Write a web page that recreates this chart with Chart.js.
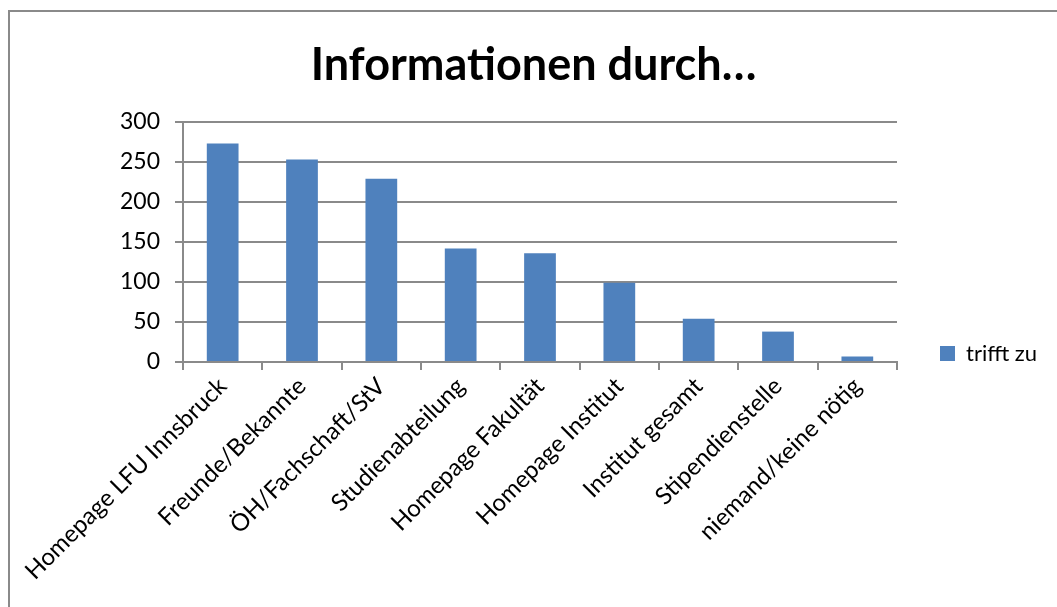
<!DOCTYPE html>
<html>
<head>
<meta charset="utf-8">
<script src="https://cdn.jsdelivr.net/npm/chart.js@4"></script>
<style>
  html, body { margin: 0; padding: 0; background: #fff; overflow: hidden; }
  #frame {
    position: absolute; left: 8px; top: 10px;
    width: 1049px; height: 597px;
    border-left: 2px solid #8a8a8a; border-top: 2px solid #8a8a8a;
  }
</style>
</head>
<body>
<div id="frame"><canvas id="chart" width="1047" height="595"></canvas></div>
<script>
// Kategorien und Werte
const categories = [
  'Homepage LFU Innsbruck',
  'Freunde/Bekannte',
  'ÖH/Fachschaft/StV',
  'Studienabteilung',
  'Homepage Fakultät',
  'Homepage Institut',
  'Institut gesamt',
  'Stipendienstelle',
  'niemand/keine nötig'
];
const trifftZu = [273, 253, 229, 142, 136, 99, 54, 38, 7];
const yTicks = [0, 50, 100, 150, 200, 250, 300];

const fontFamily = 'Lato, "Liberation Sans", sans-serif';
const gridColor = '#8a8a8a';

// Legende: feste Breite rechts vom Diagramm, etwas tiefer gesetzt
const legendPlacement = {
  id: 'legendPlacement',
  afterInit(chart) {
    const fit = chart.legend.fit;
    chart.legend.fit = function () {
      fit.call(this);
      this.width = 160;
    };
  },
  afterLayout(chart) {
    chart.legend.top += 36;
    chart.legend.bottom += 36;
  }
};

new Chart(document.getElementById('chart'), {
  type: 'bar',
  data: {
    labels: categories,
    datasets: [{
      label: 'trifft zu',
      data: trifftZu,
      backgroundColor: '#4f81bd',
      borderWidth: 0,
      categoryPercentage: 1,
      barPercentage: 0.4
    }]
  },
  plugins: [legendPlacement],
  options: {
    responsive: false,
    animation: false,
    layout: { padding: { left: 0, right: 0, top: 16, bottom: 0 } },
    plugins: {
      title: {
        display: true,
        text: 'Informationen durch…',
        color: '#000',
        font: { family: fontFamily, size: 45, weight: 'bold' },
        padding: { top: 10, bottom: 30 }
      },
      legend: {
        position: 'right',
        labels: {
          color: '#000',
          font: { family: fontFamily, size: 22 },
          boxWidth: 15,
          boxHeight: 15,
          padding: 43
        }
      },
      tooltip: { enabled: false }
    },
    scales: {
      x: {
        afterFit: (scale) => { scale.height = 245; },
        grid: { display: true, drawOnChartArea: false, drawTicks: true, tickLength: 8, color: gridColor, lineWidth: 2 },
        border: { color: gridColor, width: 2 },
        ticks: {
          color: '#000',
          font: { family: fontFamily, size: 24 },
          minRotation: 45,
          maxRotation: 45,
          padding: 2
        }
      },
      y: {
        min: 0,
        max: 300,
        afterFit: (scale) => { scale.width = 173; },
        afterBuildTicks: (scale) => { scale.ticks = yTicks.map(v => ({ value: v })); },
        grid: { color: gridColor, lineWidth: 2, tickLength: 8 },
        border: { color: gridColor, width: 2 },
        ticks: {
          color: '#000',
          font: { family: fontFamily, size: 23 },
          padding: 15
        }
      }
    }
  }
});
</script>
</body>
</html>
